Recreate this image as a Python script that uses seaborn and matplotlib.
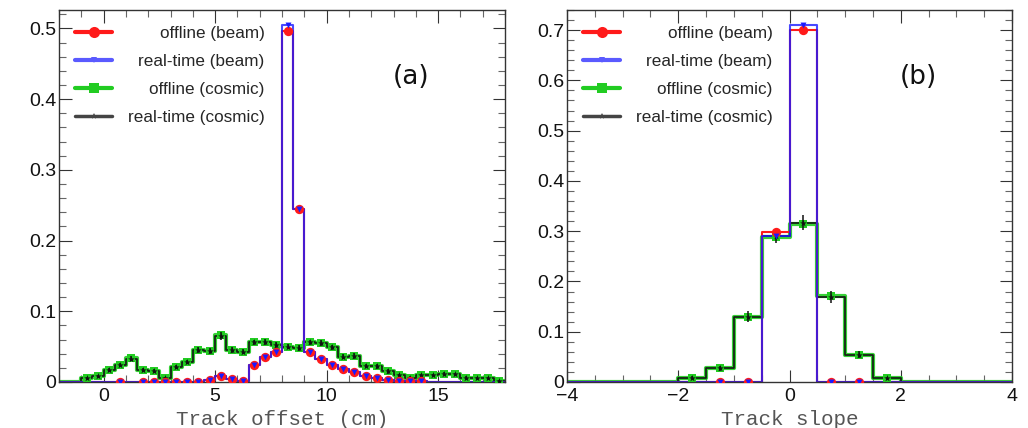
import numpy as np
import pandas as pd
import matplotlib
matplotlib.use("Agg")
import matplotlib.pyplot as plt
import seaborn as sns
from matplotlib.lines import Line2D
from matplotlib.ticker import MultipleLocator, FuncFormatter

# ---- panel (a): track offset, 0.5 cm bins from -2 to 18 ----
offset_edges = np.arange(-2.0, 18.01, 0.5)
offset_beam_offline = [0, 0, 0, 0, 0, 0.0005, 0, 0.0005, 0.0005, 0.0005,
                       0.0005, 0.0005, 0.0005, 0.003, 0.008, 0.004, 0.002, 0.024, 0.036, 0.043,
                       0.497, 0.245, 0.043, 0.032, 0.024, 0.018, 0.014, 0.009, 0.005, 0.003,
                       0.002, 0.001, 0.001, 0, 0, 0, 0, 0, 0, 0]
offset_beam_realtime = [0, 0, 0, 0, 0, 0.0005, 0, 0.0005, 0.0005, 0.0005,
                        0.0005, 0.0005, 0.0005, 0.003, 0.008, 0.004, 0.002, 0.024, 0.036, 0.043,
                        0.505, 0.244, 0.043, 0.032, 0.024, 0.018, 0.014, 0.009, 0.005, 0.003,
                        0.002, 0.001, 0.001, 0, 0, 0, 0, 0, 0, 0]
offset_cosmic_offline = [0, 0, 0.005, 0.008, 0.017, 0.024, 0.034, 0.017, 0.016, 0.005,
                         0.021, 0.028, 0.045, 0.044, 0.066, 0.045, 0.043, 0.056, 0.057, 0.052,
                         0.050, 0.048, 0.057, 0.055, 0.049, 0.036, 0.037, 0.023, 0.022, 0.015,
                         0.010, 0.006, 0.010, 0.010, 0.012, 0.011, 0.006, 0.005, 0.005, 0.002]
offset_cosmic_realtime = [0, 0, 0.005, 0.008, 0.017, 0.024, 0.033, 0.017, 0.016, 0.005,
                          0.021, 0.028, 0.045, 0.044, 0.065, 0.045, 0.043, 0.056, 0.057, 0.052,
                          0.050, 0.048, 0.056, 0.055, 0.049, 0.036, 0.037, 0.023, 0.022, 0.015,
                          0.010, 0.006, 0.010, 0.010, 0.012, 0.011, 0.006, 0.005, 0.005, 0.002]
offset_cosmic_err = [0, 0, 0.002, 0.002, 0.003, 0.003, 0.004, 0.003, 0.003, 0.002,
                     0.003, 0.003, 0.004, 0.004, 0.005, 0.004, 0.004, 0.004, 0.004, 0.004,
                     0.004, 0.004, 0.004, 0.004, 0.004, 0.004, 0.004, 0.003, 0.003, 0.003,
                     0.002, 0.002, 0.002, 0.002, 0.002, 0.002, 0.002, 0.002, 0.002, 0.001]

# ---- panel (b): track slope, 0.5 bins from -4 to 4 ----
slope_edges = np.arange(-4.0, 4.01, 0.5)
slope_beam_offline = [0, 0, 0, 0, 0, 0.0005, 0.0005, 0.298, 0.700, 0.0005, 0.0005, 0, 0, 0, 0, 0]
slope_beam_realtime = [0, 0, 0, 0, 0, 0.0005, 0.0005, 0.291, 0.711, 0.0005, 0.0005, 0, 0, 0, 0, 0]
slope_cosmic_offline = [0, 0, 0, 0, 0.008, 0.027, 0.129, 0.289, 0.315, 0.171, 0.054, 0.007, 0, 0, 0, 0]
slope_cosmic_realtime = [0, 0, 0, 0, 0.008, 0.027, 0.130, 0.290, 0.317, 0.170, 0.054, 0.007, 0, 0, 0, 0]
slope_cosmic_err = [0, 0, 0, 0, 0.003, 0.005, 0.011, 0.014, 0.015, 0.012, 0.007, 0.003, 0, 0, 0, 0]

labels = ["offline (beam)", "real-time (beam)", "offline (cosmic)", "real-time (cosmic)"]

sns.set_theme(style="ticks")
plt.rcParams["font.family"] = ["Liberation Sans", "DejaVu Sans"]

RED, BLUE, GREEN, BLACK = "#ff1a1a", "#1a1aff", "#22cc22", "#111111"


def step(ax, edges, vals, color, lw, alpha, z):
    centers = (edges[:-1] + edges[1:]) / 2
    df = pd.DataFrame({"x": centers, "w": vals})
    sns.histplot(data=df, x="x", weights="w", bins=list(edges), element="step", fill=False,
                 color=color, linewidth=lw, alpha=alpha, zorder=z, ax=ax)


def dots(ax, edges, vals, marker, color, s, z):
    centers = (edges[:-1] + edges[1:]) / 2
    vals = np.asarray(vals)
    m = vals > 0
    sns.scatterplot(x=centers[m], y=vals[m], marker=marker, color=color, s=s,
                    linewidth=0, zorder=z, ax=ax)


def draw_panel(ax, edges, b_off, b_rt, c_off, c_rt, c_err, tag, xlabel,
               xlim, ylim, xmaj, xmin):
    step(ax, edges, c_off, GREEN, 3.0, 0.9, 2.0)
    step(ax, edges, c_rt, BLACK, 1.3, 0.9, 2.1)
    step(ax, edges, b_off, RED, 1.5, 1.0, 2.2)
    step(ax, edges, b_rt, BLUE, 1.5, 0.8, 2.3)

    dots(ax, edges, c_off, "s", GREEN, 40, 3.0)
    centers = (edges[:-1] + edges[1:]) / 2
    m = np.asarray(c_rt) > 0
    ax.errorbar(centers[m], np.asarray(c_rt)[m], yerr=np.asarray(c_err)[m], fmt="none",
                ecolor=BLACK, elinewidth=1.1, zorder=3.1)
    dots(ax, edges, c_rt, "*", BLACK, 26, 3.2)
    dots(ax, edges, b_off, "o", RED, 45, 3.3)
    dots(ax, edges, b_rt, "v", BLUE, 18, 3.4)

    ax.set_xlim(*xlim)
    ax.set_ylim(*ylim)
    ax.xaxis.set_major_locator(MultipleLocator(xmaj))
    ax.xaxis.set_minor_locator(MultipleLocator(xmin))
    ax.yaxis.set_major_locator(MultipleLocator(0.1))
    ax.yaxis.set_minor_locator(MultipleLocator(0.02))
    ax.yaxis.set_major_formatter(FuncFormatter(lambda v, p: "0" if abs(v) < 1e-9 else f"{v:.1f}"))
    ax.tick_params(which="both", direction="in", top=True, right=True,
                   width=0.8, labelsize=14, labelcolor="#111111")
    ax.tick_params(which="major", length=9, color="#333333")
    ax.tick_params(which="minor", length=5, color="#666666")
    ax.tick_params(axis="y", pad=2)
    ax.tick_params(axis="x", pad=4)
    for sp in ax.spines.values():
        sp.set_color("#333333")
        sp.set_linewidth(1.0)
    ax.set_ylabel("")
    ax.set_xlabel(xlabel, family="Liberation Mono", fontsize=15, color="#555555", labelpad=4)
    ax.text(0.79, 0.82, tag, transform=ax.transAxes, fontsize=19, ha="center", va="center",
            color="#111111", family="DejaVu Sans")

    handles = [
        Line2D([], [], color=RED, lw=3, marker="o", ms=8, mew=0),
        Line2D([], [], color="#5a5aff", lw=3, marker="v", ms=5, mew=0),
        Line2D([], [], color=GREEN, lw=3, marker="s", ms=7, mew=0),
        Line2D([], [], color="#444444", lw=2.5, marker="*", ms=5, mew=0),
    ]
    leg = ax.legend(handles, labels, loc="upper left", bbox_to_anchor=(0, 1),
                    frameon=False, fontsize=12.3, handlelength=2.2, handletextpad=0.9,
                    labelspacing=0.76, borderaxespad=0, borderpad=0.93)
    return leg


fig = plt.figure(figsize=(10.28, 4.28), dpi=100)
ax1 = fig.add_axes([59 / 1028, 46 / 428, 446 / 1028, 372 / 428])
ax2 = fig.add_axes([567 / 1028, 46 / 428, 445 / 1028, 372 / 428])

leg1 = draw_panel(ax1, offset_edges, offset_beam_offline, offset_beam_realtime,
                  offset_cosmic_offline, offset_cosmic_realtime, offset_cosmic_err,
                  "(a)", "Track offset (cm)", (-2, 18), (0, 0.526), 5, 1)
leg2 = draw_panel(ax2, slope_edges, slope_beam_offline, slope_beam_realtime,
                  slope_cosmic_offline, slope_cosmic_realtime, slope_cosmic_err,
                  "(b)", "Track slope", (-4, 4), (0, 0.74), 2, 0.5)

# right-align legend texts (ROOT style)
fig.canvas.draw()
renderer = fig.canvas.get_renderer()
for leg in (leg1, leg2):
    texts = leg.get_texts()
    widths = [t.get_window_extent(renderer).width for t in texts]
    shift = max(widths)
    for t, w in zip(texts, widths):
        t.set_position((shift - w, 0))

fig.savefig("out.png", dpi=100)
